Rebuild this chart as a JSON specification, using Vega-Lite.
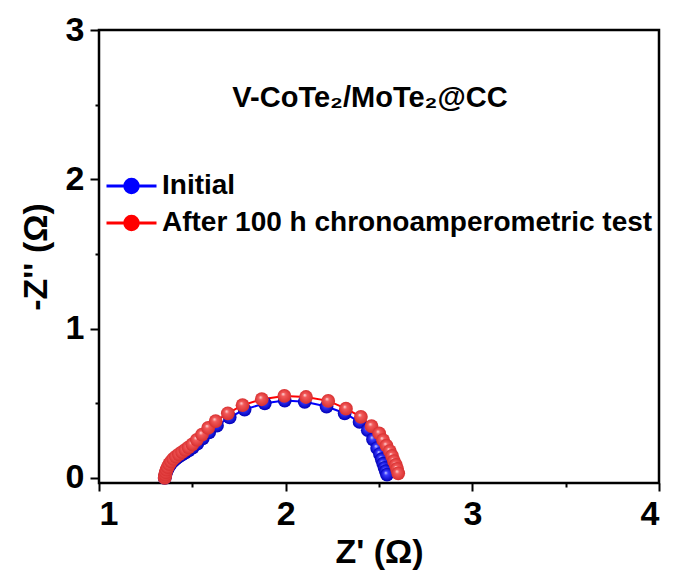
{
  "$schema": "https://vega.github.io/schema/vega-lite/v6.json",
  "width": 560,
  "height": 453,
  "autosize": "none",
  "padding": {"left": 99, "top": 30, "right": 15, "bottom": 88},
  "background": "white",
  "config": {
    "view": {"stroke": "black", "strokeWidth": 2.5},
    "font": "Liberation Sans",
    "axis": {
      "domain": false, "grid": false,
      "tickColor": "black", "tickWidth": 2,
      "labelFont": "Liberation Sans", "labelFontWeight": "bold", "labelFontSize": 34, "labelColor": "black",
      "titleFont": "Liberation Sans", "titleFontWeight": "bold", "titleFontSize": 34, "titleColor": "black"
    }
  },
  "title": {
    "text": "V-CoTe₂/MoTe₂@CC",
    "font": "Liberation Sans", "fontWeight": "bold", "fontSize": 29, "color": "black",
    "anchor": "middle", "baseline": "alphabetic", "offset": -123, "dx": -9
  },
  "datasets": {
    "eis": [
      {"s": "Initial", "i": 1, "x": 1.352, "y": 0.000},
      {"s": "Initial", "i": 2, "x": 1.354, "y": 0.012},
      {"s": "Initial", "i": 3, "x": 1.357, "y": 0.027},
      {"s": "Initial", "i": 4, "x": 1.361, "y": 0.043},
      {"s": "Initial", "i": 5, "x": 1.367, "y": 0.060},
      {"s": "Initial", "i": 6, "x": 1.375, "y": 0.078},
      {"s": "Initial", "i": 7, "x": 1.385, "y": 0.095},
      {"s": "Initial", "i": 8, "x": 1.397, "y": 0.112},
      {"s": "Initial", "i": 9, "x": 1.411, "y": 0.127},
      {"s": "Initial", "i": 10, "x": 1.427, "y": 0.142},
      {"s": "Initial", "i": 11, "x": 1.444, "y": 0.156},
      {"s": "Initial", "i": 12, "x": 1.462, "y": 0.170},
      {"s": "Initial", "i": 13, "x": 1.481, "y": 0.185},
      {"s": "Initial", "i": 14, "x": 1.502, "y": 0.203},
      {"s": "Initial", "i": 15, "x": 1.527, "y": 0.230},
      {"s": "Initial", "i": 16, "x": 1.556, "y": 0.265},
      {"s": "Initial", "i": 17, "x": 1.590, "y": 0.305},
      {"s": "Initial", "i": 18, "x": 1.632, "y": 0.350},
      {"s": "Initial", "i": 19, "x": 1.700, "y": 0.405},
      {"s": "Initial", "i": 20, "x": 1.780, "y": 0.458},
      {"s": "Initial", "i": 21, "x": 1.888, "y": 0.500},
      {"s": "Initial", "i": 22, "x": 1.995, "y": 0.518},
      {"s": "Initial", "i": 23, "x": 2.102, "y": 0.510},
      {"s": "Initial", "i": 24, "x": 2.219, "y": 0.478},
      {"s": "Initial", "i": 25, "x": 2.316, "y": 0.433},
      {"s": "Initial", "i": 26, "x": 2.396, "y": 0.375},
      {"s": "Initial", "i": 27, "x": 2.440, "y": 0.320},
      {"s": "Initial", "i": 28, "x": 2.468, "y": 0.258},
      {"s": "Initial", "i": 29, "x": 2.490, "y": 0.200},
      {"s": "Initial", "i": 30, "x": 2.505, "y": 0.160},
      {"s": "Initial", "i": 31, "x": 2.515, "y": 0.125},
      {"s": "Initial", "i": 32, "x": 2.523, "y": 0.095},
      {"s": "Initial", "i": 33, "x": 2.530, "y": 0.068},
      {"s": "Initial", "i": 34, "x": 2.537, "y": 0.045},
      {"s": "Initial", "i": 35, "x": 2.543, "y": 0.022},
      {"s": "After 100 h chronoamperometric test", "i": 1, "x": 1.352, "y": 0.000},
      {"s": "After 100 h chronoamperometric test", "i": 2, "x": 1.353, "y": 0.010},
      {"s": "After 100 h chronoamperometric test", "i": 3, "x": 1.355, "y": 0.022},
      {"s": "After 100 h chronoamperometric test", "i": 4, "x": 1.358, "y": 0.038},
      {"s": "After 100 h chronoamperometric test", "i": 5, "x": 1.362, "y": 0.055},
      {"s": "After 100 h chronoamperometric test", "i": 6, "x": 1.368, "y": 0.073},
      {"s": "After 100 h chronoamperometric test", "i": 7, "x": 1.376, "y": 0.092},
      {"s": "After 100 h chronoamperometric test", "i": 8, "x": 1.386, "y": 0.110},
      {"s": "After 100 h chronoamperometric test", "i": 9, "x": 1.398, "y": 0.127},
      {"s": "After 100 h chronoamperometric test", "i": 10, "x": 1.412, "y": 0.143},
      {"s": "After 100 h chronoamperometric test", "i": 11, "x": 1.428, "y": 0.158},
      {"s": "After 100 h chronoamperometric test", "i": 12, "x": 1.445, "y": 0.173},
      {"s": "After 100 h chronoamperometric test", "i": 13, "x": 1.462, "y": 0.188},
      {"s": "After 100 h chronoamperometric test", "i": 14, "x": 1.480, "y": 0.205},
      {"s": "After 100 h chronoamperometric test", "i": 15, "x": 1.500, "y": 0.225},
      {"s": "After 100 h chronoamperometric test", "i": 16, "x": 1.524, "y": 0.255},
      {"s": "After 100 h chronoamperometric test", "i": 17, "x": 1.552, "y": 0.290},
      {"s": "After 100 h chronoamperometric test", "i": 18, "x": 1.585, "y": 0.335},
      {"s": "After 100 h chronoamperometric test", "i": 19, "x": 1.625, "y": 0.380},
      {"s": "After 100 h chronoamperometric test", "i": 20, "x": 1.690, "y": 0.433},
      {"s": "After 100 h chronoamperometric test", "i": 21, "x": 1.769, "y": 0.487},
      {"s": "After 100 h chronoamperometric test", "i": 22, "x": 1.872, "y": 0.527},
      {"s": "After 100 h chronoamperometric test", "i": 23, "x": 1.993, "y": 0.549},
      {"s": "After 100 h chronoamperometric test", "i": 24, "x": 2.109, "y": 0.542},
      {"s": "After 100 h chronoamperometric test", "i": 25, "x": 2.228, "y": 0.516},
      {"s": "After 100 h chronoamperometric test", "i": 26, "x": 2.323, "y": 0.464},
      {"s": "After 100 h chronoamperometric test", "i": 27, "x": 2.403, "y": 0.409},
      {"s": "After 100 h chronoamperometric test", "i": 28, "x": 2.460, "y": 0.347},
      {"s": "After 100 h chronoamperometric test", "i": 29, "x": 2.501, "y": 0.298},
      {"s": "After 100 h chronoamperometric test", "i": 30, "x": 2.522, "y": 0.253},
      {"s": "After 100 h chronoamperometric test", "i": 31, "x": 2.540, "y": 0.216},
      {"s": "After 100 h chronoamperometric test", "i": 32, "x": 2.558, "y": 0.180},
      {"s": "After 100 h chronoamperometric test", "i": 33, "x": 2.570, "y": 0.147},
      {"s": "After 100 h chronoamperometric test", "i": 34, "x": 2.580, "y": 0.113},
      {"s": "After 100 h chronoamperometric test", "i": 35, "x": 2.590, "y": 0.087},
      {"s": "After 100 h chronoamperometric test", "i": 36, "x": 2.597, "y": 0.060},
      {"s": "After 100 h chronoamperometric test", "i": 37, "x": 2.603, "y": 0.031}
    ]
  },
  "data": {"name": "eis"},
  "resolve": {"axis": {"x": "independent", "y": "independent"}},
  "layer": [
    {
      "mark": {"type": "line", "strokeWidth": 2},
      "encoding": {
        "x": {"field": "x", "type": "quantitative", "scale": {"domain": [1, 4], "nice": false, "zero": false},
              "axis": {"values": [1, 2, 3, 4], "tickSize": 8, "labelPadding": 6, "title": "Z' (Ω)", "titlePadding": 4}},
        "y": {"field": "y", "type": "quantitative", "scale": {"domain": [-0.034, 3], "nice": false, "zero": false},
              "axis": {"values": [0, 1, 2, 3], "tickSize": 9, "labelPadding": 6, "title": "-Z'' (Ω)", "titlePadding": 12}},
        "color": {"field": "s", "type": "nominal",
                  "scale": {"domain": ["Initial", "After 100 h chronoamperometric test"], "range": ["#0000ff", "#ff0000"]},
                  "legend": {"title": null, "orient": "none", "legendX": 18.5, "legendY": 142,
                             "symbolType": "M-2,0H2M0.54,0A0.54,0.54,0,1,1,-0.54,0A0.54,0.54,0,1,1,0.54,0",
                             "symbolSize": 625, "symbolStrokeWidth": 3,
                             "labelFont": "Liberation Sans", "labelFontWeight": "bold", "labelFontSize": 28, "labelColor": "black",
                             "labelOffset": 16.5, "rowPadding": 9, "labelLimit": 600,
                             "encode": {"symbols": {"update": {"fill": {"scale": "color", "field": "value"}}}}}},
        "order": {"field": "i", "type": "quantitative"}
      }
    },
    {
      "transform": [{"filter": "datum.s === 'Initial'"}],
      "mark": {"type": "point", "shape": "circle", "filled": true, "size": 190, "opacity": 1, "strokeWidth": 0,
               "fill": {"gradient": "radial", "x1": 0.4, "y1": 0.35, "r1": 0, "x2": 0.5, "y2": 0.5, "r2": 0.5,
                        "stops": [{"offset": 0, "color": "#d8dcff"}, {"offset": 0.3, "color": "#3a3aff"}, {"offset": 1, "color": "#0000b8"}]}},
      "encoding": {
        "x": {"field": "x", "type": "quantitative",
              "axis": {"values": [1.5, 2.5, 3.5], "labels": false, "tickSize": 4, "title": null, "orient": "bottom"}},
        "y": {"field": "y", "type": "quantitative",
              "axis": {"values": [0.5, 1.5, 2.5], "labels": false, "tickSize": 4, "title": null, "orient": "left"}}
      }
    },
    {
      "transform": [{"filter": "datum.s !== 'Initial'"}],
      "mark": {"type": "point", "shape": "circle", "filled": true, "size": 190, "opacity": 1, "strokeWidth": 0,
               "fill": {"gradient": "radial", "x1": 0.4, "y1": 0.35, "r1": 0, "x2": 0.5, "y2": 0.5, "r2": 0.5,
                        "stops": [{"offset": 0, "color": "#ffe8e8"}, {"offset": 0.3, "color": "#f25a5a"}, {"offset": 1, "color": "#d83030"}]}},
      "encoding": {
        "x": {"field": "x", "type": "quantitative", "axis": null},
        "y": {"field": "y", "type": "quantitative", "axis": null}
      }
    }
  ]
}
